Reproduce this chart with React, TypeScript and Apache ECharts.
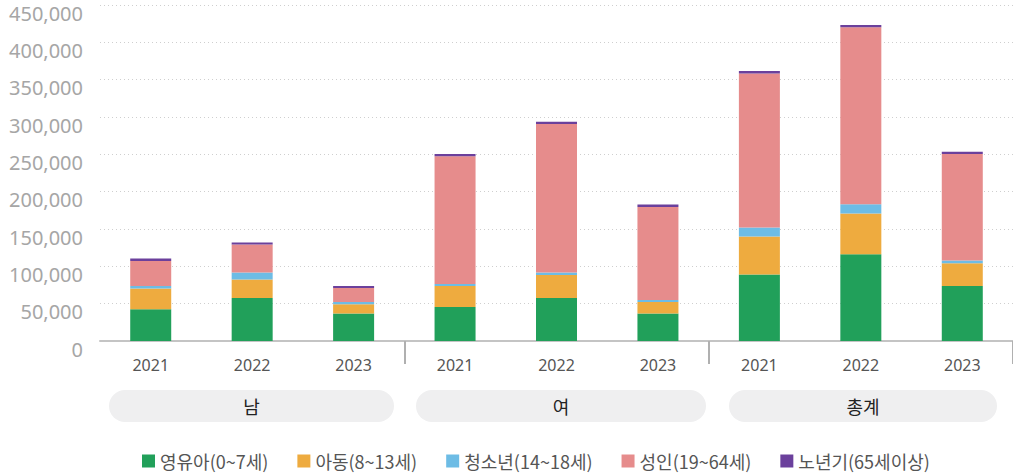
import React, { useEffect, useRef } from "react";
import * as echarts from "echarts";

const categories = ["2021", "2022", "2023", "2021", "2022", "2023", "2021", "2022", "2023"];
const groups = ["남", "여", "총계"];
const seriesNames = ["영유아(0~7세)", "아동(8~13세)", "청소년(14~18세)", "성인(19~64세)", "노년기(65세이상)"];
const infants = [42500, 57600, 36700, 45600, 57600, 36700, 89000, 116200, 73700];
const children = [27700, 24700, 12500, 28100, 30900, 15600, 50900, 54600, 30500];
const youth = [3500, 9400, 3100, 2700, 3200, 2700, 12100, 12400, 3600];
const adults = [33500, 37500, 18700, 171200, 198800, 124600, 206400, 236900, 142500];
const seniors = [3200, 2700, 2700, 2700, 3100, 3200, 3100, 3100, 3100];
const yTicks = [0, 50000, 100000, 150000, 200000, 250000, 300000, 350000, 400000, 450000];

const colors = ["#21a05a", "#eeab3f", "#6dbce5", "#e68c8c", "#6b409c"];

export default function App() {
  const ref = useRef<HTMLDivElement>(null);
  useEffect(() => {
    if (!ref.current) return;
    const chart = echarts.init(ref.current, null, { renderer: "svg" });
    const values = [infants, children, youth, adults, seniors];
    const pills = [
      { x: 109, w: 285 },
      { x: 416, w: 290 },
      { x: 729, w: 268 },
    ];
    chart.setOption({
      animation: false,
      grid: { left: 100, top: 5, width: 915, height: 336, containLabel: false },
      legend: {
        left: 142,
        top: 452,
        padding: 0,
        itemWidth: 13,
        itemHeight: 13,
        itemGap: 29,
        icon: "rect",
        textStyle: { fontSize: 18, color: "#555", fontFamily: "Noto Sans CJK KR", lineHeight: 18 },
        data: seriesNames,
      },
      xAxis: {
        type: "category",
        data: categories,
        axisLine: { lineStyle: { color: "#c4c4c4", width: 2 } },
        axisTick: {
          show: true,
          length: 23,
          interval: (i: number) => i === 3 || i === 6,
          lineStyle: { color: "#b0b0b0", width: 2 },
        },
        axisLabel: { color: "#555", fontSize: 16, fontFamily: "Noto Sans", margin: 16 },
      },
      yAxis: {
        type: "value",
        min: 0,
        max: yTicks[yTicks.length - 1],
        interval: yTicks[1] - yTicks[0],
        axisLine: { show: false },
        axisTick: { show: false },
        axisLabel: {
          color: "#a6a6a6",
          fontSize: 20,
          fontFamily: "Noto Sans",
          margin: 17,
          verticalAlign: "top",
          lineHeight: 16,
          formatter: (v: number) => v.toLocaleString("en-US"),
        },
        splitLine: { lineStyle: { color: "#cfcfcf", type: [1, 3], width: 1 } },
      },
      series: seriesNames.map((name, i) => ({
        name,
        type: "bar",
        stack: "total",
        barWidth: 41,
        data: values[i],
        itemStyle: { color: colors[i] },
      })),
      graphic: pills.flatMap((p, i) => [
        {
          type: "rect",
          shape: { x: p.x, y: 390, width: p.w, height: 32, r: 16 },
          style: { fill: "#efeff0" },
          silent: true,
        },
        {
          type: "text",
          x: p.x + p.w / 2,
          y: 406,
          style: {
            text: groups[i],
            fontSize: 18,
            fill: "#222",
            fontFamily: "Noto Sans CJK KR",
            align: "center",
            verticalAlign: "middle",
          },
          silent: true,
        },
      ]),
    });
    return () => chart.dispose();
  }, []);
  return (
    <div
      ref={ref}
      style={{ position: "absolute", left: 0, top: 0, width: 1013, height: 474, background: "#fff" }}
    />
  );
}
